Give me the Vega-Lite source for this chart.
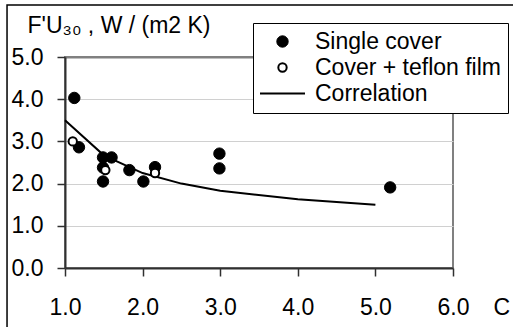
{
  "$schema": "https://vega.github.io/schema/vega-lite/v6.json",
  "width": 388,
  "height": 211,
  "autosize": {"type": "none"},
  "padding": {"left": 65, "top": 57, "right": 60, "bottom": 59},
  "background": "white",
  "datasets": {
    "points": [
      {"x": 1.12, "y": 4.03, "series": "Single cover"},
      {"x": 1.18, "y": 2.86, "series": "Single cover"},
      {"x": 1.49, "y": 2.62, "series": "Single cover"},
      {"x": 1.6, "y": 2.62, "series": "Single cover"},
      {"x": 1.49, "y": 2.38, "series": "Single cover"},
      {"x": 1.49, "y": 2.05, "series": "Single cover"},
      {"x": 1.83, "y": 2.32, "series": "Single cover"},
      {"x": 2.01, "y": 2.05, "series": "Single cover"},
      {"x": 2.16, "y": 2.39, "series": "Single cover"},
      {"x": 2.99, "y": 2.71, "series": "Single cover"},
      {"x": 2.99, "y": 2.36, "series": "Single cover"},
      {"x": 5.19, "y": 1.91, "series": "Single cover"},
      {"x": 1.1, "y": 3.0, "series": "Cover + teflon film"},
      {"x": 1.52, "y": 2.32, "series": "Cover + teflon film"},
      {"x": 2.16, "y": 2.25, "series": "Cover + teflon film"}
    ],
    "corr": [
      {"x": 1.0, "y": 3.5},
      {"x": 1.5, "y": 2.67},
      {"x": 2.0, "y": 2.25},
      {"x": 2.5, "y": 2.0},
      {"x": 3.0, "y": 1.83},
      {"x": 4.0, "y": 1.63},
      {"x": 5.0, "y": 1.5}
    ]
  },
  "config": {
    "font": "Liberation Sans",
    "view": {"stroke": "#808080", "strokeWidth": 2},
    "axis": {
      "labelFontSize": 23,
      "labelColor": "black",
      "labelFlush": false,
      "labelFont": "Liberation Sans",
      "titleFont": "Liberation Sans",
      "titleFontSize": 23,
      "titleFontWeight": "normal",
      "titleColor": "black",
      "domainColor": "#303030",
      "domainWidth": 2,
      "tickColor": "#303030",
      "tickWidth": 1.5,
      "tickSize": 8
    },
    "legend": {
      "labelFontSize": 23,
      "labelColor": "black",
      "labelFont": "Liberation Sans",
      "labelLimit": 0
    }
  },
  "layer": [
    {
      "data": {"values": [{}]},
      "mark": {"type": "rect", "filled": false, "stroke": "black", "strokeWidth": 1.5, "clip": false},
      "encoding": {
        "x": {"datum": 0.253, "type": "quantitative", "scale": {"domain": [1, 6], "nice": false, "zero": false}},
        "x2": {"datum": 8},
        "y": {"datum": 6.23, "type": "quantitative", "scale": {"domain": [0, 5], "nice": false}},
        "y2": {"datum": -3}
      }
    },
    {
      "data": {"name": "corr"},
      "mark": {"type": "line", "stroke": "black", "strokeWidth": 2},
      "encoding": {
        "x": {"field": "x", "type": "quantitative"},
        "y": {"field": "y", "type": "quantitative"}
      }
    },
    {
      "data": {"name": "points"},
      "mark": {"type": "point", "filled": true, "stroke": "black", "opacity": 1},
      "encoding": {
        "x": {
          "field": "x",
          "type": "quantitative",
          "scale": {"domain": [1, 6], "nice": false, "zero": false},
          "axis": {
            "values": [1, 2, 3, 4, 5, 6],
            "format": ".1f",
            "grid": false,
            "labelPadding": 20,
            "title": "C",
            "titleAlign": "left",
            "titleBaseline": "alphabetic",
            "titleAnchor": "start",
            "titleX": 428,
            "titleY": 46
          }
        },
        "y": {
          "field": "y",
          "type": "quantitative",
          "scale": {"domain": [0, 5], "nice": false},
          "axis": {
            "values": [0, 1, 2, 3, 4, 5],
            "format": ".1f",
            "grid": true,
            "gridColor": {"condition": {"test": "datum.value === 5", "value": "#808080"}, "value": "#d0d0d0"},
            "gridWidth": {"condition": {"test": "datum.value === 5", "value": 2}, "value": 1},
            "labelPadding": 14,
            "title": "F'U₃₀ , W / (m2 K)",
            "titleAngle": 0,
            "titleAlign": "left",
            "titleBaseline": "alphabetic",
            "titleAnchor": "start",
            "titleX": -38,
            "titleY": -25
          }
        },
        "shape": {
          "field": "series",
          "type": "nominal",
          "scale": {"domain": ["Single cover", "Cover + teflon film", "Correlation"], "range": ["circle", "circle", "M-3,0H3"]},
          "legend": {
            "title": null,
            "orient": "none",
            "legendX": 188,
            "legendY": -34,
            "strokeColor": "black",
            "fillColor": "white",
            "padding": 7,
            "rowPadding": 2,
            "symbolOffset": 11,
            "labelOffset": 21,
            "labelLimit": 0,
            "symbolStrokeColor": "black"
          }
        },
        "fill": {
          "field": "series",
          "type": "nominal",
          "scale": {"domain": ["Single cover", "Cover + teflon film", "Correlation"], "range": ["black", "white", "transparent"]},
          "legend": {"title": null}
        },
        "size": {
          "field": "series",
          "type": "nominal",
          "scale": {"type": "ordinal", "domain": ["Single cover", "Cover + teflon film", "Correlation"], "range": [130, 70, 225]},
          "legend": {"title": null}
        },
        "strokeWidth": {
          "field": "series",
          "type": "nominal",
          "scale": {"type": "ordinal", "domain": ["Single cover", "Cover + teflon film", "Correlation"], "range": [1, 2, 2]},
          "legend": {"title": null}
        }
      }
    }
  ]
}
